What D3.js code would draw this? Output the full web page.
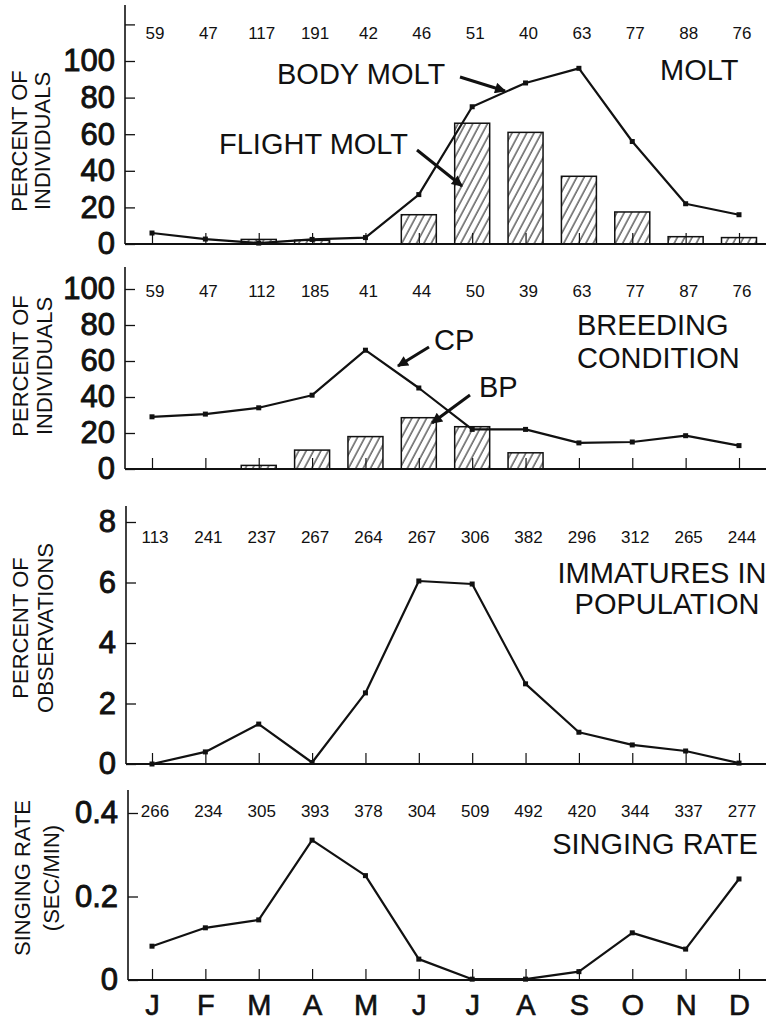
<!DOCTYPE html>
<html>
<head>
<meta charset="utf-8">
<script src="https://cdn.jsdelivr.net/npm/d3@7/dist/d3.min.js"></script>
<style>
  body { margin: 0; background: #fff; }
  text { font-family: "Liberation Sans", Arial, Helvetica, sans-serif; fill: #111; }
</style>
</head>
<body>
<script>
// month labels
var months = ["J", "F", "M", "A", "M", "J", "J", "A", "S", "O", "N", "D"];

// molt panel
var moltCounts = [59, 47, 117, 191, 42, 46, 51, 40, 63, 77, 88, 76];
var bodyMolt = [6, 2.7, 0.5, 2.5, 3.5, 27, 75, 88, 96, 56, 22, 16];
var flightMolt = [0, 0, 2.5, 2, 0, 16, 66, 61, 37, 17.5, 4, 3.5];

// breeding condition panel
var breedCounts = [59, 47, 112, 185, 41, 44, 50, 39, 63, 77, 87, 76];
var cpValues = [29, 30.5, 34, 41, 66, 45, 22, 22, 14.5, 15, 18.5, 13];
var bpValues = [0, 0, 2, 10.5, 18, 28.5, 23.5, 9, 0, 0, 0, 0];

// immatures panel
var immCounts = [113, 241, 237, 267, 264, 267, 306, 382, 296, 312, 265, 244];
var immatures = [0, 0.4, 1.32, 0.05, 2.35, 6.05, 5.95, 2.65, 1.05, 0.63, 0.43, 0.03];

// singing panel
var singCounts = [266, 234, 305, 393, 378, 304, 509, 492, 420, 344, 337, 277];
var singing = [0.081, 0.125, 0.144, 0.335, 0.25, 0.05, 0.002, 0.002, 0.02, 0.113, 0.074, 0.242];

var width = 768, height = 1023;

var svg = d3.select("body").append("svg")
  .attr("width", width)
  .attr("height", height);

var defs = svg.append("defs");
defs.append("pattern")
  .attr("id", "hatch")
  .attr("patternUnits", "userSpaceOnUse")
  .attr("width", 6.5)
  .attr("height", 6.5)
  .attr("patternTransform", "rotate(28)")
  .append("line")
  .attr("x1", 1).attr("y1", 0)
  .attr("x2", 1).attr("y2", 6.5)
  .attr("stroke", "#111")
  .attr("stroke-width", 1);

defs.append("marker")
  .attr("id", "arrow")
  .attr("viewBox", "0 0 10 10")
  .attr("refX", 9).attr("refY", 5)
  .attr("markerUnits", "userSpaceOnUse")
  .attr("markerWidth", 13).attr("markerHeight", 11)
  .attr("orient", "auto")
  .append("path")
  .attr("d", "M0,0 L10,5 L0,10 z")
  .attr("fill", "#111");

var x = d3.scalePoint()
  .domain(d3.range(12))
  .range([152, 739]);

var xRight = 766;
var barW = 35;

var panels = [
  {
    axisX: 125, top: 5, base: 244, domain: [0, 100], range: [244, 61],
    ticks: [0, 20, 40, 60, 80, 100, 120], labels: [0, 20, 40, 60, 80, 100],
    countY: 33, counts: moltCounts, line: bodyMolt, bars: flightMolt,
    ylab: ["PERCENT OF", "INDIVIDUALS"], ylabX: [19, 42], ylabY: 141
  },
  {
    axisX: 125, top: 267, base: 469, domain: [0, 100], range: [469, 289],
    ticks: [0, 20, 40, 60, 80, 100], labels: [0, 20, 40, 60, 80, 100],
    countY: 291, counts: breedCounts, line: cpValues, bars: bpValues,
    ylab: ["PERCENT OF", "INDIVIDUALS"], ylabX: [20, 44], ylabY: 366
  },
  {
    axisX: 126, top: 506, base: 764, domain: [0, 8], range: [764, 522],
    ticks: [0, 2, 4, 6, 8], labels: [0, 2, 4, 6, 8],
    countY: 537, counts: immCounts, line: immatures, bars: null,
    ylab: ["PERCENT OF", "OBSERVATIONS"], ylabX: [20, 45], ylabY: 628
  },
  {
    axisX: 128, top: 790, base: 980, domain: [0, 0.4], range: [980, 813],
    ticks: [0, 0.2, 0.4], labels: [0, 0.2, 0.4],
    countY: 811, counts: singCounts, line: singing, bars: null,
    ylab: ["SINGING RATE", "(SEC/MIN)"], ylabX: [22, 51], ylabY: 878
  }
];

panels.forEach(function(p, pi) {
  var y = d3.scaleLinear().domain(p.domain).range(p.range);
  var g = svg.append("g");

  // bars
  if (p.bars) {
    g.selectAll("rect.bar")
      .data(p.bars.map(function(v, i) { return {i: i, v: v}; })
        .filter(function(d) { return d.v > 0; }))
      .enter()
      .append("rect")
      .attr("class", "bar")
      .attr("x", function(d) { return x(d.i) - barW / 2; })
      .attr("y", function(d) { return y(d.v); })
      .attr("width", barW)
      .attr("height", function(d) { return p.base - y(d.v); })
      .attr("fill", "url(#hatch)")
      .attr("stroke", "#111")
      .attr("stroke-width", 1.5);
  }

  // y axis
  var yAxis = d3.axisLeft(y)
    .tickValues(p.ticks)
    .tickSize(-10)
    .tickPadding(10)
    .tickFormat(function(d) {
      if (p.labels.indexOf(d) < 0) return "";
      return d === 0 ? "0" : (p.domain[1] < 1 ? d3.format(".1f")(d) : d);
    });
  var gy = g.append("g")
    .attr("transform", "translate(" + p.axisX + ",0)")
    .call(yAxis);
  gy.select(".domain").remove();
  gy.selectAll(".tick line").attr("stroke", "#111").attr("stroke-width", 1.3);
  gy.selectAll(".tick text")
    .style("font-size", "31px")
    .style("font-family", "Liberation Sans, Arial, sans-serif")
    .attr("fill", "#111")
    .attr("stroke", "#111")
    .attr("stroke-width", 0.9);

  g.append("line")
    .attr("x1", p.axisX).attr("x2", p.axisX)
    .attr("y1", p.top).attr("y2", p.base)
    .attr("stroke", "#111").attr("stroke-width", 1.6);

  // x axis
  var xAxis = d3.axisBottom(x)
    .tickSize(-11)
    .tickPadding(14)
    .tickFormat(function(i) { return pi === 3 ? months[i] : ""; });
  var gx = g.append("g")
    .attr("transform", "translate(0," + p.base + ")")
    .call(xAxis);
  gx.select(".domain").remove();
  gx.selectAll(".tick line").attr("stroke", "#111").attr("stroke-width", 1.2);
  gx.selectAll(".tick text")
    .style("font-size", "29px")
    .style("font-family", "Liberation Sans, Arial, sans-serif")
    .attr("fill", "#111")
    .attr("stroke", "#111")
    .attr("stroke-width", 0.6);

  g.append("line")
    .attr("x1", p.axisX).attr("x2", xRight)
    .attr("y1", p.base).attr("y2", p.base)
    .attr("stroke", "#111").attr("stroke-width", 2);

  // sample sizes
  g.selectAll("text.count")
    .data(p.counts)
    .enter()
    .append("text")
    .attr("class", "count")
    .attr("x", function(d, i) { return x(i) + 3; })
    .attr("y", p.countY)
    .attr("dy", "0.35em")
    .attr("text-anchor", "middle")
    .style("font-size", "17px")
    .text(function(d) { return d; });

  // line
  var line = d3.line()
    .x(function(d, i) { return x(i); })
    .y(function(d) { return y(d); });
  g.append("path")
    .datum(p.line)
    .attr("d", line)
    .attr("fill", "none")
    .attr("stroke", "#111")
    .attr("stroke-width", 2.2)
    .attr("stroke-linejoin", "round");
  g.selectAll("rect.pt")
    .data(p.line)
    .enter()
    .append("rect")
    .attr("class", "pt")
    .attr("x", function(d, i) { return x(i) - 2.5; })
    .attr("y", function(d) { return y(d) - 2.5; })
    .attr("width", 5)
    .attr("height", 5)
    .attr("fill", "#111");

  // y axis title
  g.selectAll("text.ylab")
    .data(p.ylab)
    .enter()
    .append("text")
    .attr("class", "ylab")
    .attr("transform", function(d, i) {
      return "translate(" + p.ylabX[i] + "," + p.ylabY + ") rotate(-90)";
    })
    .attr("text-anchor", "middle")
    .attr("dy", "0.35em")
    .style("font-size", "22px")
    .text(function(d) { return d; });
});

// annotations
function label(txt, xx, yy, anchor) {
  svg.append("text")
    .attr("x", xx).attr("y", yy)
    .attr("text-anchor", anchor || "start")
    .style("font-size", "29px")
    .text(txt);
}
function arrow(x1, y1, x2, y2) {
  svg.append("line")
    .attr("x1", x1).attr("y1", y1)
    .attr("x2", x2).attr("y2", y2)
    .attr("stroke", "#111")
    .attr("stroke-width", 3)
    .attr("marker-end", "url(#arrow)");
}

label("BODY MOLT", 277, 84);
arrow(460, 77, 505, 91);
label("FLIGHT MOLT", 219, 154);
arrow(417, 150, 462, 186);
label("MOLT", 660, 80);

label("CP", 434, 350);
arrow(429, 347, 398, 366);
label("BP", 479, 397);
arrow(470, 395, 432, 423);
label("BREEDING", 577, 335);
label("CONDITION", 577, 368);

label("IMMATURES IN", 662, 583, "middle");
label("POPULATION", 667, 614, "middle");

label("SINGING RATE", 655, 854, "middle");
</script>
</body>
</html>
